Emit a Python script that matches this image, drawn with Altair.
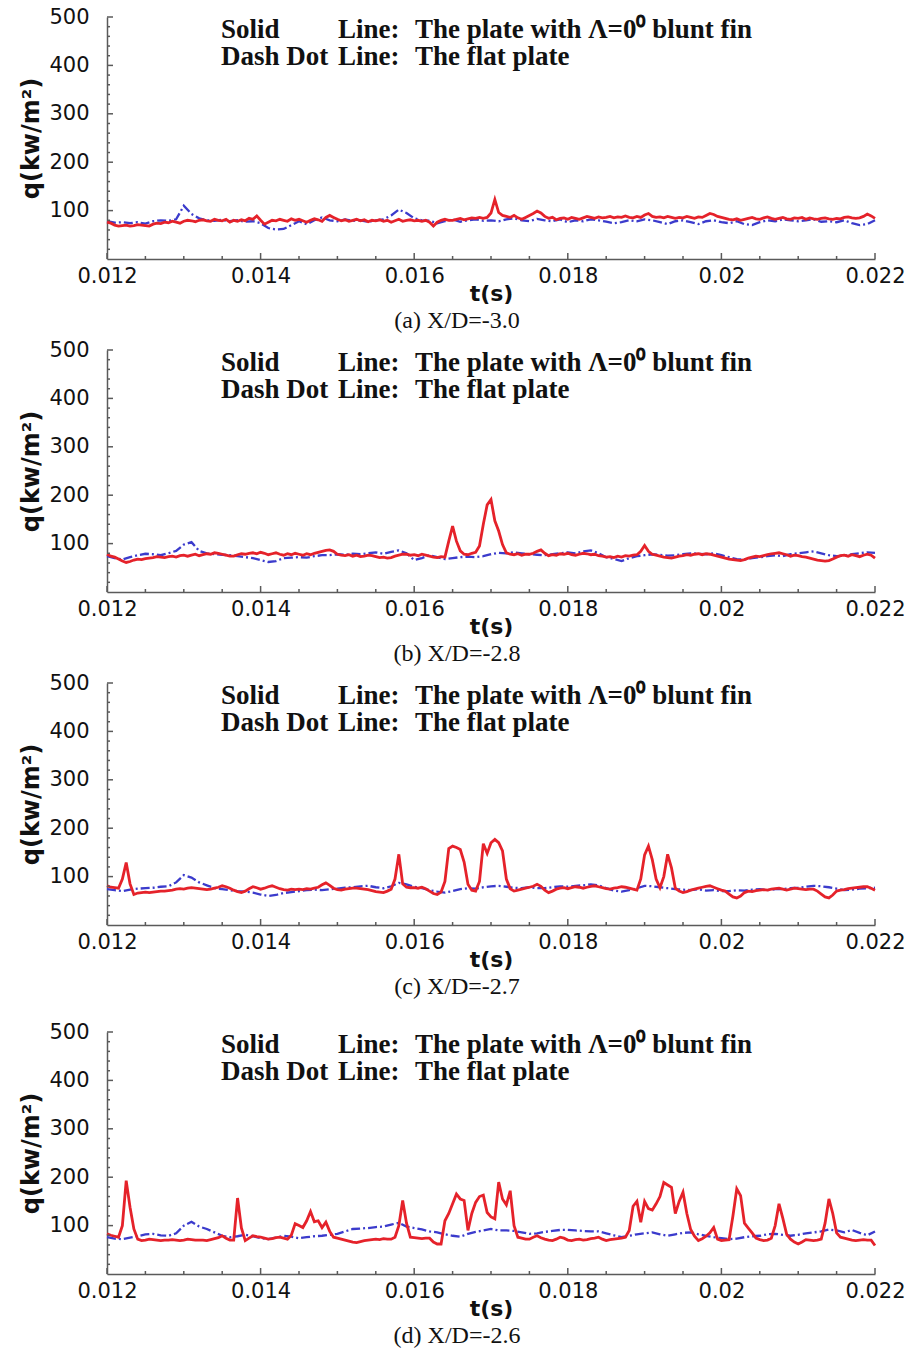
import altair as alt
import pandas as pd

# Heat-flux histories q(t) at four stations ahead of the fin.
T_START = 0.012
FINE_STEP = 0.00005    # sampling of the blunt-fin traces
COARSE_STEP = 0.0001   # sampling of the flat-plate traces

# ---- (a) X/D = -3.0 ----
fin_a = [
    76, 74, 70, 68, 69, 70, 68, 69, 71, 70,
    69, 68, 72, 74, 73, 76, 75, 78, 76, 74,
    78, 80, 79, 77, 80, 81, 79, 78, 82, 80,
    79, 82, 76, 80, 78, 81, 79, 84, 82, 89,
    80, 72, 76, 80, 79, 82, 80, 78, 83, 80,
    82, 79, 76, 80, 83, 81, 78, 86, 90, 86,
    82, 79, 81, 78, 80, 82, 79, 81, 77, 80,
    79, 81, 78, 80, 76, 79, 82, 78, 80, 81,
    79, 80, 78, 80, 76, 68, 76, 80, 82, 80,
    80, 82, 84, 81, 83, 85, 84, 86, 84, 86,
    95, 123, 96, 90, 88, 86, 90, 85, 82, 86,
    90, 94, 99, 95, 88, 84, 86, 81, 84, 85,
    82, 86, 84, 82, 85, 88, 86, 84, 87, 85,
    86, 88, 85, 87, 86, 89, 86, 85, 88, 86,
    91, 94, 88, 86, 87, 85, 88, 86, 84, 86,
    85, 88, 86, 84, 87, 86, 90, 94, 92, 88,
    86, 84, 82, 81, 83, 80, 82, 84, 86, 83,
    82, 85, 87, 84, 82, 84, 86, 83, 82, 85,
    84, 86, 82, 85, 83, 82, 84, 85, 83, 82,
    84, 83, 86, 87, 85, 84, 85, 88, 93, 89,
    84,
]
flat_a = [
    78, 75, 76, 74, 76, 73, 78, 80, 79, 82,
    110, 93, 84, 80, 79, 81, 78, 80, 77, 78,
    74, 64, 61, 62, 70, 78, 72, 80, 86, 80,
    78, 82, 79, 80, 77, 80, 82, 90, 102, 95,
    84, 80, 79, 74, 78, 82, 77, 80, 82, 79,
    80, 78, 82, 84, 80, 78, 83, 80, 78, 82,
    76, 80, 78, 82, 80, 77, 74, 76, 80, 78,
    82, 80, 76, 72, 78, 80, 76, 72, 78, 80,
    76, 74, 78, 72, 70, 76, 80, 78, 82, 80,
    78, 80, 82, 77, 78, 76, 80, 74, 70, 72,
    80,
]

# ---- (b) X/D = -2.8 ----
fin_b = [
    78, 74, 72, 68, 64, 61, 63, 66, 68, 67,
    69, 70, 71, 73, 72, 71, 73, 74, 72, 75,
    76, 74, 76, 78, 75, 77, 79, 78, 81, 80,
    78, 76, 74, 74, 77, 79, 78, 80, 81, 79,
    82, 80, 77, 79, 81, 78, 76, 79, 77, 80,
    78, 76, 79, 77, 80, 82, 84, 86, 87, 84,
    78, 76, 75, 77, 74, 76, 73, 74, 76, 75,
    73, 71, 72, 70, 71, 74, 76, 78, 78, 76,
    77, 75, 78, 76, 74, 72, 71, 73, 72, 105,
    136, 105, 85, 78, 77, 80, 82, 95, 140, 180,
    191, 147, 126, 98, 81, 78, 77, 79, 76, 78,
    78, 80, 84, 87, 80, 75, 77, 76, 79, 78,
    80, 77, 76, 78, 80, 79, 77, 78, 75, 74,
    72, 73, 71, 74, 72, 75, 74, 76, 77, 84,
    96, 84, 78, 76, 74, 72, 71, 70, 72, 74,
    75, 77, 76, 78, 79, 77, 79, 78, 76, 74,
    72, 70, 68, 67, 66, 65, 67, 70, 72, 74,
    73, 75, 77, 79, 80, 81, 79, 77, 74, 76,
    75, 73, 72, 70, 68, 66, 65, 64, 65, 68,
    72, 75, 76, 74, 77, 75, 73, 76, 78, 76,
    70,
]
flat_b = [
    74, 70, 67, 72, 76, 79, 78, 76, 80, 85,
    98, 103, 85, 80, 78, 77, 76, 74, 72, 70,
    66, 62, 64, 70, 71, 72, 71, 74, 76, 76,
    78, 77, 79, 78, 80, 82, 79, 83, 86, 80,
    66, 70, 76, 72, 68, 70, 72, 73, 72, 74,
    78, 81, 80, 82, 80, 78, 77, 76, 78, 80,
    82, 80, 84, 86, 80, 72, 68, 64, 70, 74,
    76, 78, 77, 75, 76, 78, 80, 79, 78, 80,
    76, 72, 68, 67, 70, 72, 74, 76, 74, 78,
    80, 82, 84, 80, 76, 74, 75, 78, 80, 82,
    81,
]

# ---- (c) X/D = -2.7 ----
fin_c = [
    81, 78, 77, 76, 95, 129, 85, 63, 66, 67,
    68, 67, 68, 69, 70, 70, 71, 72, 74, 75,
    74, 76, 77, 76, 75, 74, 73, 74, 76, 78,
    81, 79, 76, 72, 69, 67, 70, 75, 79, 77,
    74, 76, 79, 81, 78, 75, 73, 72, 74, 73,
    74, 73, 75, 74, 76, 78, 83, 87, 82, 76,
    73, 72, 74, 75, 76, 76, 75, 74, 73, 71,
    69, 68, 67, 70, 74, 95, 146, 85, 78, 77,
    77, 76, 78, 75, 70, 65, 63, 68, 90, 158,
    163, 160, 156, 130, 84, 72, 70, 90, 168, 148,
    170, 177, 170, 153, 95, 75, 70, 72, 74, 76,
    78, 80, 84, 80, 72, 67, 70, 74, 76, 77,
    75, 77, 79, 78, 76, 78, 80, 81, 79, 77,
    75, 74, 76, 77, 79, 78, 76, 74, 72, 95,
    145, 163, 135, 95, 77, 100, 146, 118, 76, 70,
    67, 69, 72, 74, 76, 78, 80, 81, 78, 75,
    72, 70, 64, 58, 56, 60, 67, 70, 69, 71,
    72, 73, 72, 74, 75, 76, 74, 72, 74, 76,
    75, 74, 73, 74, 74, 70, 64, 58, 56, 62,
    70, 72, 73, 75, 76, 77, 78, 79, 79, 76,
    72,
]
flat_c = [
    74, 72, 70, 73, 75, 76, 77, 79, 80, 88,
    103, 98, 88, 82, 76, 74, 72, 70, 69, 67,
    63, 60, 62, 66, 68, 70, 72, 73, 72, 74,
    75, 77, 78, 80, 81, 78, 76, 80, 87, 84,
    79, 76, 72, 69, 67, 70, 74, 76, 75, 78,
    80, 81, 79, 77, 76, 78, 76, 76, 78, 80,
    79, 81, 82, 84, 82, 76, 71, 69, 72, 76,
    81, 80, 78, 76, 74, 73, 72, 74, 71, 72,
    70, 70, 72, 71, 73, 74, 72, 74, 74, 76,
    77, 79, 81, 80, 78, 75, 72, 73, 75, 76,
    77,
]

# ---- (d) X/D = -2.6 ----
fin_d = [
    83, 80, 78, 76, 100, 193, 138, 93, 72, 69,
    70, 72, 71, 70, 69, 70, 70, 71, 70, 69,
    70, 72, 71, 70, 70, 70, 69, 71, 73, 75,
    79, 74, 70, 70, 157, 95, 69, 74, 79, 77,
    76, 74, 72, 73, 75, 76, 74, 72, 80, 104,
    100, 96, 110, 129, 108, 110, 96, 107, 88, 76,
    74, 72, 70, 68, 66, 65, 67, 69, 70, 71,
    72, 71, 73, 72, 72, 76, 100, 152, 105, 76,
    75, 74, 73, 74, 74, 66, 62, 62, 110, 125,
    145, 165, 155, 152, 90, 125, 148, 160, 163, 127,
    118, 114, 190, 155, 143, 172, 100, 76, 74, 72,
    72, 76, 79, 75, 72, 70, 69, 72, 76, 74,
    70, 69, 71, 72, 70, 71, 73, 74, 76, 72,
    69, 71, 72, 73, 74, 76, 90, 140, 150, 107,
    150, 135, 132, 145, 160, 189, 184, 179, 125, 150,
    169, 125, 92, 78, 69, 73, 78, 85, 96, 72,
    69, 70, 71, 120, 176, 162, 105, 95, 85, 74,
    71, 69, 70, 74, 100, 145, 115, 82, 72, 66,
    62, 66, 71, 70, 69, 70, 72, 105, 155, 125,
    85, 76, 74, 72, 70, 69, 70, 71, 70, 70,
    59,
]
flat_d = [
    76, 73, 72, 75, 78, 82, 83, 80, 79, 84,
    100, 108, 98, 93, 86, 79, 76, 78, 81, 78,
    74, 72, 75, 79, 77, 74, 76, 78, 79, 81,
    83, 88, 93, 94, 95, 97, 98, 102, 106, 98,
    95, 92, 88, 86, 82, 79, 77, 83, 87, 90,
    93, 90, 90, 89, 86, 83, 84, 87, 89, 91,
    91, 90, 89, 88, 88, 84, 80, 76, 79, 82,
    84, 86, 82, 79, 82, 85, 86, 82, 79, 76,
    74, 72, 73, 76, 78, 79, 82, 83, 81, 79,
    81, 84, 86, 88, 92, 90, 86, 91, 85, 80,
    88,
]

captions = ["(a) X/D=-3.0", "(b) X/D=-2.8", "(c) X/D=-2.7", "(d) X/D=-2.6"]
legend_solid = ["Solid", "Line:", "The plate with \u039b=0\u2070 blunt fin"]
legend_dash = ["Dash Dot", "Line:", "The flat plate"]

x_major = [0.012, 0.014, 0.016, 0.018, 0.02, 0.022]
x_minor = [0.0125, 0.013, 0.0135, 0.0145, 0.015, 0.0155, 0.0165, 0.017,
           0.0175, 0.0185, 0.019, 0.0195, 0.0205, 0.021, 0.0215]
y_major = [100, 200, 300, 400, 500]
y_minor = [v for v in range(20, 500, 20) if v % 100]

W, H = 768, 242
RED = "#e5222a"
BLUE = "#3b3bcc"
AXIS = "#5a5a5a"
INK = "#111111"
SANS = "DejaVu Sans"
SERIF = "Liberation Serif"

ONE = pd.DataFrame({"k": [0]})
x_scale = alt.Scale(domain=[0.012, 0.022], nice=False, zero=False)


def series(values, step):
    return pd.DataFrame({
        "t": [round(T_START + i * step, 6) for i in range(len(values))],
        "q": values,
    })


def text(s, x, y, size, weight, font, align="left"):
    return alt.Chart(ONE).mark_text(
        text=s, font=font, fontSize=size, fontWeight=weight, align=align,
        baseline="alphabetic", color=INK,
    ).encode(x=alt.value(x), y=alt.value(y))


def panel(fin, flat, caption, drop=0):
    """One q(t) panel; `drop` pushes the plot frame down inside the view."""
    total = H + drop
    y_scale = alt.Scale(domain=[0, 500], nice=False, zero=False,
                        range=[total, drop])
    x_enc = alt.X("t:Q", scale=x_scale, axis=alt.Axis(
        values=x_major, format="~g", labelFlush=False, ticks=False, tickSize=0,
        grid=False, domainColor=AXIS, domainWidth=1.5,
        labelFont=SANS, labelFontSize=21, labelColor=INK, labelPadding=6,
        title="t(s)", titleFont=SANS, titleFontSize=22, titleFontWeight="bold",
        titleColor=INK, titlePadding=-3,
    ))
    y_enc = alt.Y("q:Q", scale=y_scale, axis=alt.Axis(
        values=y_major, ticks=False, tickSize=0, grid=False,
        domainColor=AXIS, domainWidth=1.5,
        labelFont=SANS, labelFontSize=21, labelColor=INK, labelPadding=18,
        title="q(kw/m\u00b2)", titleFont=SANS, titleFontSize=24,
        titleFontWeight="bold", titleColor=INK, titlePadding=5,
    ))

    flat_line = alt.Chart(series(flat, COARSE_STEP)).mark_line(
        color=BLUE, strokeWidth=2.3, strokeDash=[9, 3, 2, 3]
    ).encode(x=x_enc, y=y_enc)
    fin_line = alt.Chart(series(fin, FINE_STEP)).mark_line(
        color=RED, strokeWidth=2.8
    ).encode(x=x_enc, y=y_enc)

    def xticks(vals, length):
        return alt.Chart(pd.DataFrame({"t": vals})).mark_rule(
            color=AXIS, strokeWidth=1.5
        ).encode(x=x_enc, y=alt.value(total), y2=alt.value(total - length))

    def yticks(vals, length):
        return alt.Chart(pd.DataFrame({"q": vals})).mark_rule(
            color=AXIS, strokeWidth=1.5
        ).encode(y=y_enc, x=alt.value(0), x2=alt.value(length))

    layers = [
        flat_line, fin_line,
        xticks(x_major, 6), xticks(x_minor, 3),
        yticks(y_major, 6), yticks(y_minor, 3),
        text(legend_solid[0], 114, drop + 20.7, 27, "bold", SERIF),
        text(legend_solid[1], 231, drop + 20.7, 27, "bold", SERIF),
        text(legend_solid[2], 308, drop + 20.7, 27, "bold", SERIF),
        text(legend_dash[0], 114, drop + 48, 27, "bold", SERIF),
        text(legend_dash[1], 231, drop + 48, 27, "bold", SERIF),
        text(legend_dash[2], 308, drop + 48, 27, "bold", SERIF),
        text(caption, 350, drop + 311, 24, "normal", SERIF, align="center"),
    ]
    return alt.layer(*layers).properties(width=W, height=total)


chart = alt.vconcat(
    panel(fin_a, flat_a, captions[0]),
    panel(fin_b, flat_b, captions[1]),
    panel(fin_c, flat_c, captions[2]),
    panel(fin_d, flat_d, captions[3], drop=16),
    spacing=91, bounds="flush",
).properties(
    padding={"left": 19, "top": 6, "right": 5, "bottom": 5},
).configure_view(stroke=None)

chart.save("out.html", embed_options={"renderer": "svg", "actions": False})
